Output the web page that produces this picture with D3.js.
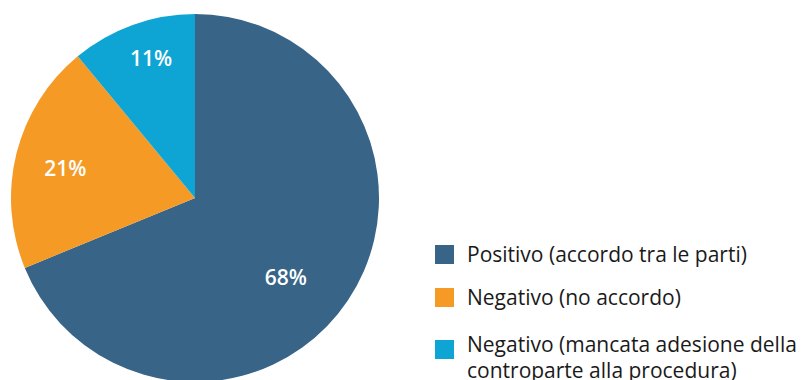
<!doctype html>
<html>
<head>
<meta charset="utf-8">
<script src="https://cdn.jsdelivr.net/npm/d3@7"></script>
<style>
  body { margin: 0; background: #fff; }
  text { font-family: "Open Sans", sans-serif; }
</style>
</head>
<body>
<svg width="801" height="380"></svg>
<script>
// data
var categories = ["Positivo (accordo tra le parti)", "Negativo (no accordo)", "Negativo (mancata adesione della controparte alla procedura)"];
var values = [68.8, 20.2, 11.0];
var labels = ["68%", "21%", "11%"];
var colors = ["#386487", "#f49a25", "#0ea5d4"];
var legendLines = [["Positivo (accordo tra le parti)"], ["Negativo (no accordo)"], ["Negativo (mancata adesione della", "controparte alla procedura)"]];

var svg = d3.select("svg");
var cx = 195, cy = 198, r = 184;

var pie = d3.pie().sort(null).value(function(d) { return d; });
var arcs = pie(values);
var arc = d3.arc().innerRadius(0).outerRadius(r);

var g = svg.append("g").attr("transform", "translate(" + cx + "," + cy + ")");

g.selectAll("path")
  .data(arcs)
  .enter().append("path")
  .attr("d", arc)
  .attr("fill", function(d, i) { return colors[i]; });

// label radius a bit different per slice, like the original
var labelR = [121, 133, 146];
var labelShift = [0.13, -0.02, 0.04];
g.selectAll("text.lbl")
  .data(arcs)
  .enter().append("text")
  .attr("class", "lbl")
  .attr("transform", function(d, i) {
    var a = (d.startAngle + d.endAngle) / 2 + labelShift[i];
    return "translate(" + (Math.sin(a) * labelR[i]) + "," + (-Math.cos(a) * labelR[i]) + ")";
  })
  .attr("text-anchor", "middle")
  .attr("dy", "0.35em")
  .attr("fill", "#fff")
  .attr("font-size", 21)
  .attr("font-weight", 600)
  .text(function(d, i) { return labels[i]; });

// legend
var rowY = [245, 288, 340];
var legend = svg.append("g");
var item = legend.selectAll("g")
  .data(categories)
  .enter().append("g")
  .attr("transform", function(d, i) { return "translate(435," + rowY[i] + ")"; });

item.append("rect")
  .attr("x", 0).attr("y", 0)
  .attr("width", 19).attr("height", 19)
  .attr("fill", function(d, i) { return colors[i]; });

item.each(function(d, i) {
  var t = d3.select(this).append("text")
    .attr("x", 32).attr("y", i == 2 ? 12 : 17)
    .attr("font-size", 21)
    .attr("fill", "#1a1a1a");
  legendLines[i].forEach(function(line, j) {
    t.append("tspan").attr("x", 32).attr("dy", j == 0 ? 0 : 26).text(line);
  });
});
</script>
</body>
</html>
